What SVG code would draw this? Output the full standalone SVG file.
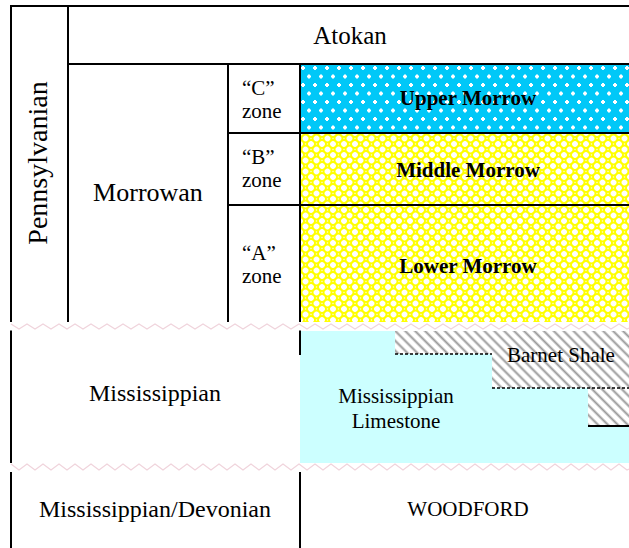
<svg xmlns="http://www.w3.org/2000/svg" width="629" height="548" viewBox="0 0 629 548">
<style>
text{font-family:"Liberation Serif","Times New Roman",serif;fill:#000}
.b{font-weight:bold}
.m{text-anchor:middle}
.ln{stroke:#000;stroke-width:2;fill:none}
.dash{stroke:#000;stroke-width:1.5;stroke-dasharray:3 2;fill:none}
.zig{stroke:#f0d4dc;stroke-width:1.2;fill:none}
</style>
<defs>
<pattern id="dots" patternUnits="userSpaceOnUse" width="12" height="17" x="300" y="64">
<rect width="12" height="17" fill="#00c8f8"/>
<g fill="#fff">
<rect x="1" y="3" width="4" height="2"/><rect x="2" y="2" width="2" height="4"/>
<rect x="7" y="11.5" width="4" height="2"/><rect x="8" y="10.5" width="2" height="4"/>
</g>
</pattern>
<pattern id="trellis" patternUnits="userSpaceOnUse" width="11" height="11" x="300" y="133">
<rect width="11" height="11" fill="#fff"/>
<g fill="none" stroke="#ffff00" stroke-width="2">
<circle cx="0" cy="0" r="4"/><circle cx="11" cy="0" r="4"/><circle cx="0" cy="11" r="4"/><circle cx="11" cy="11" r="4"/><circle cx="5.5" cy="5.5" r="4"/>
</g>
</pattern>
<pattern id="hatch" patternUnits="userSpaceOnUse" width="7" height="7" patternTransform="rotate(45)">
<rect width="7" height="7" fill="#fff"/>
<line x1="0" y1="3.5" x2="7" y2="3.5" stroke="#999" stroke-width="2"/>
</pattern>
</defs>

<g id="fills">
<rect x="300" y="64" width="329" height="69" fill="url(#dots)"/>
<rect x="300" y="133" width="329" height="189" fill="url(#trellis)"/>
<polygon points="300,331 395,331 395,354 492,354 492,388 588,388 588,426 629,426 629,463 300,463" fill="#ccffff"/>
<polygon points="395,331 629,331 629,426 588,426 588,388 492,388 492,354 395,354" fill="url(#hatch)"/>
</g>

<g id="connectors">
<line class="ln" x1="10" y1="6" x2="629" y2="6"/>
<line class="ln" x1="11" y1="5" x2="11" y2="548"/>
<line class="ln" x1="68" y1="6" x2="68" y2="322"/>
<line class="ln" x1="68" y1="64" x2="629" y2="64"/>
<line class="ln" x1="228" y1="64" x2="228" y2="322"/>
<line class="ln" x1="300" y1="64" x2="300" y2="322"/>
<line class="ln" x1="228" y1="133" x2="629" y2="133"/>
<line class="ln" x1="228" y1="205" x2="629" y2="205"/>
<line class="ln" x1="300" y1="330" x2="300" y2="355"/>
<line class="dash" x1="395" y1="354" x2="492" y2="354"/>
<line class="dash" x1="492" y1="388" x2="629" y2="388"/>
<line class="ln" x1="588" y1="426" x2="629" y2="426"/>
<line class="ln" x1="300" y1="472" x2="300" y2="548"/>
</g>

<g id="breaks">
<rect x="0" y="322" width="629" height="8.5" fill="#fff"/>
<polyline class="zig" points="11,324 19,329 27,324 35,329 43,324 51,329 59,324 67,329 75,324 83,329 91,324 99,329 107,324 115,329 123,324 131,329 139,324 147,329 155,324 163,329 171,324 179,329 187,324 195,329 203,324 211,329 219,324 227,329 235,324 243,329 251,324 259,329 267,324 275,329 283,324 291,329 299,324 307,329 315,324 323,329 331,324 339,329 347,324 355,329 363,324 371,329 379,324 387,329 395,324 403,329 411,324 419,329 427,324 435,329 443,324 451,329 459,324 467,329 475,324 483,329 491,324 499,329 507,324 515,329 523,324 531,329 539,324 547,329 555,324 563,329 571,324 579,329 587,324 595,329 603,324 611,329 619,324 627,329 629,328"/>
<rect x="0" y="463" width="629" height="9" fill="#fff"/>
<polyline class="zig" points="11,464 19,470 27,464 35,470 43,464 51,470 59,464 67,470 75,464 83,470 91,464 99,470 107,464 115,470 123,464 131,470 139,464 147,470 155,464 163,470 171,464 179,470 187,464 195,470 203,464 211,470 219,464 227,470 235,464 243,470 251,464 259,470 267,464 275,470 283,464 291,470 299,464 307,470 315,464 323,470 331,464 339,470 347,464 355,470 363,464 371,470 379,464 387,470 395,464 403,470 411,464 419,470 427,464 435,470 443,464 451,470 459,464 467,470 475,464 483,470 491,464 499,470 507,464 515,470 523,464 531,470 539,464 547,470 555,464 563,470 571,464 579,470 587,464 595,470 603,464 611,470 619,464 627,470 629,469"/>
</g>

<g id="pennsylvanian"><text class="m" font-size="28" transform="translate(47,163) rotate(-90)">Pennsylvanian</text></g>
<g id="atokan"><text class="m" x="350" y="44" font-size="25">Atokan</text></g>
<g id="morrowan"><text class="m" x="148" y="201" font-size="26">Morrowan</text></g>
<g id="zone-c"><text x="242" y="95" font-size="21">“C”</text><text x="242" y="118" font-size="21">zone</text></g>
<g id="zone-b"><text x="242" y="164" font-size="21">“B”</text><text x="242" y="187" font-size="21">zone</text></g>
<g id="zone-a"><text x="242" y="260" font-size="21">“A”</text><text x="242" y="283" font-size="21">zone</text></g>
<g id="upper-morrow"><text class="m b" x="468" y="105" font-size="21">Upper Morrow</text></g>
<g id="middle-morrow"><text class="m b" x="468" y="177" font-size="21">Middle Morrow</text></g>
<g id="lower-morrow"><text class="m b" x="468" y="273" font-size="21">Lower Morrow</text></g>
<g id="mississippian"><text class="m" x="155" y="401" font-size="24">Mississippian</text></g>
<g id="barnet-shale"><text class="m" x="561" y="362" font-size="21">Barnet Shale</text></g>
<g id="miss-limestone"><text class="m" x="396" y="403" font-size="21">Mississippian</text><text class="m" x="396" y="428" font-size="21">Limestone</text></g>
<g id="miss-devonian"><text class="m" x="155" y="517" font-size="24">Mississippian/Devonian</text></g>
<g id="woodford"><text class="m" x="468" y="516" font-size="21">WOODFORD</text></g>
</svg>
